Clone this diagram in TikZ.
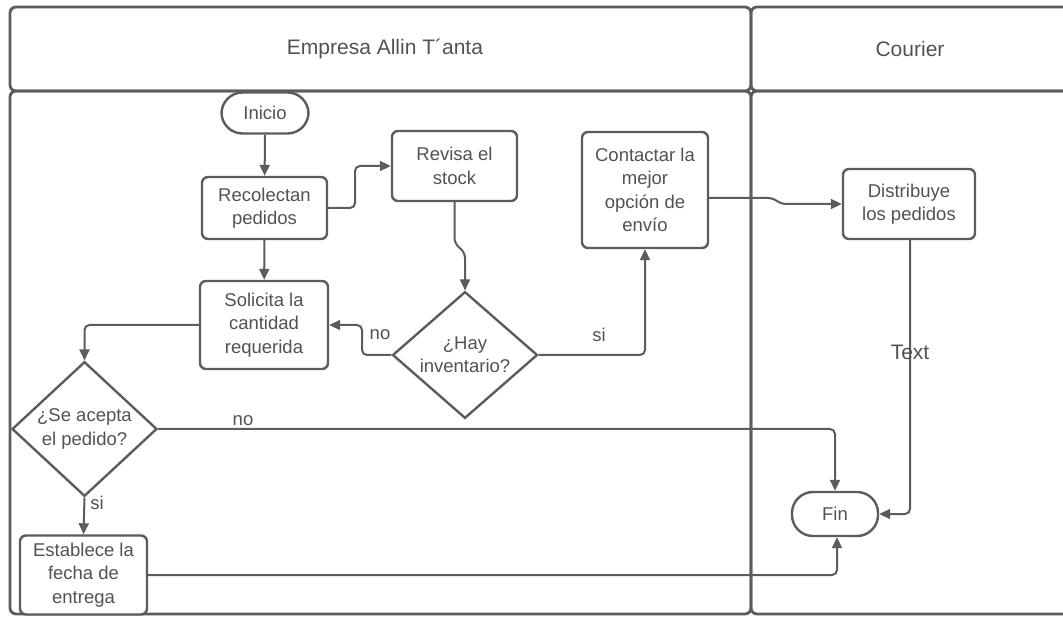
\documentclass[tikz,border=0pt]{standalone}
\usepackage{fontspec}
\setmainfont{Liberation Sans}
\usetikzlibrary{shapes.geometric,arrows.meta}
\definecolor{ink}{RGB}{92,92,92}
\definecolor{txt}{RGB}{82,82,82}
\newcommand\boxfont{\fontsize{18.5}{23.3}\selectfont}
\newcommand\headfont{\fontsize{21}{25}\selectfont}

\begin{document}
\begin{tikzpicture}[x=1pt,y=-1pt,
  lane/.style={draw=ink,line width=2.8pt,rounded corners=6pt},
  hdr/.style={text=txt,font=\headfont,inner sep=0pt},
  stepbox/.style={draw=ink,line width=2.4pt,rounded corners=6pt,fill=white,
    text=txt,align=center,inner sep=0pt,font=\boxfont},
  term/.style={stepbox,rounded corners=21pt},
  decision/.style={diamond,draw=ink,line width=2.4pt,fill=white,text=txt,
    align=center,inner sep=0pt,font=\boxfont},
  flow/.style={draw=ink,line width=2pt,rounded corners=5pt,
    -{Triangle[length=11pt,width=10pt]}},
  lbl/.style={text=txt,font=\boxfont,inner sep=0pt}]

\useasboundingbox (0,0) rectangle (1063,617);

% swimlanes
\draw[lane] (10,7) rectangle (751,91);
\draw[lane] (751,7) rectangle (1080,91);
\draw[lane] (10,91) rectangle (751,614);
\draw[lane] (751,91) rectangle (1080,614);
\node[hdr] (h1) at (385,49) {Empresa Allin T´anta};
\node[hdr] (h2) at (910,49) {Courier};

% steps
\node[term,minimum width=87pt,minimum height=41pt] (inicio) at (265,113) {Inicio};
\node[stepbox,minimum width=125pt,minimum height=62pt] (recol) at (264.5,208) {Recolectan\\pedidos};
\node[stepbox,minimum width=125pt,minimum height=70pt] (revisa) at (454.5,166) {Revisa el\\stock};
\node[stepbox,minimum width=126pt,minimum height=116pt] (contactar) at (645,190) {Contactar la\\mejor\\opción de\\envío};
\node[stepbox,minimum width=132pt,minimum height=70pt] (distrib) at (909,204) {Distribuye\\los pedidos};
\node[stepbox,minimum width=128pt,minimum height=88pt] (solicita) at (264,325) {Solicita la\\cantidad\\requerida};
\node[decision,minimum width=145pt,minimum height=125pt] (hay) at (465,355) {¿Hay\\inventario?};
\node[decision,minimum width=145pt,minimum height=122pt] (acepta) at (84.5,429) {¿Se acepta\\el pedido?};
\node[stepbox,minimum width=127pt,minimum height=79pt] (establece) at (83.5,575) {Establece la\\fecha de\\entrega};
\node[term,minimum width=86pt,minimum height=44pt] (fin) at (835,514) {Fin};

% connectors
\draw[flow] (inicio) -- (recol);
\draw[flow] (recol.east) -- (355,208) -- (355,166) -- (revisa.west);
\draw[flow] (revisa.south) -- (454.5,243) -- (465,253) -- (hay.north);
\draw[flow] (recol) -- (solicita);
\draw[flow] (hay.west) -- (362,355) -- (362,325) -- (solicita.east);
\draw[flow] (hay.east) -| (contactar.south);
\draw[flow] (solicita.west) -| (acepta.north);
\draw[flow] (acepta.east) -| (fin.north);
\draw[flow] (acepta.south) -- (establece.north);
\draw[flow] (establece.east) -| ([xshift=2pt]fin.south);
\draw[flow] ([yshift=-8pt]contactar.east) -- (773,198) -- (781,204) -- (distrib.west);
\draw[flow] ([xshift=1pt]distrib.south) |- (fin.east);

% branch labels
\node[lbl] (lno1) at (380,335) {no};
\node[lbl] (lsi1) at (599,335) {si};
\node[lbl] (lno2) at (243,421) {no};
\node[lbl] (lsi2) at (97,503) {si};
\node[lbl,font=\headfont] (ltext) at (910,352) {Text};
\end{tikzpicture}
\end{document}
